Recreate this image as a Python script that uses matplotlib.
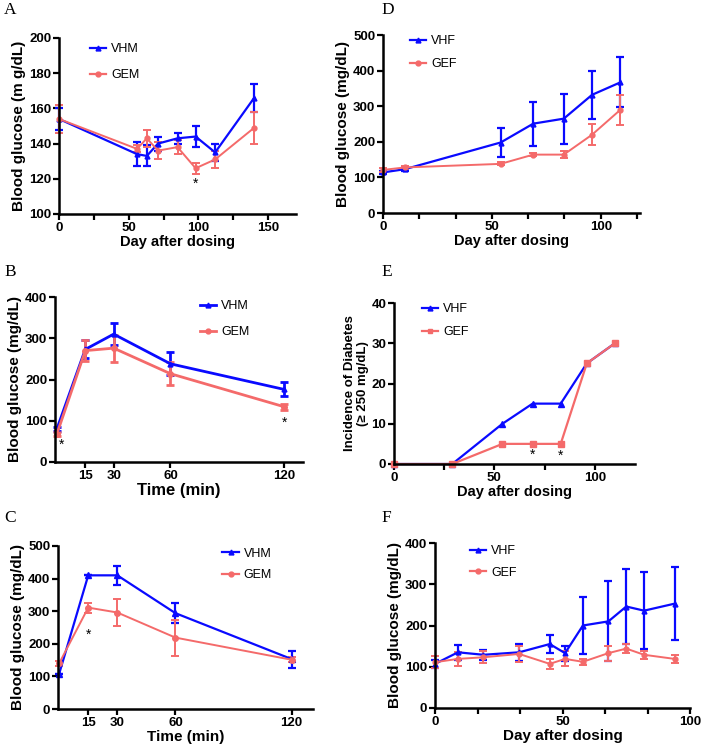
import matplotlib
matplotlib.use('Agg')
import matplotlib.pyplot as plt
from matplotlib.lines import Line2D
import numpy as np

plt.rcParams['font.family'] = ['Liberation Sans', 'DejaVu Sans']

BLUE = '#0a0aff'
RED = '#f46a6a'

# ---- data ----
a_days = [0, 56, 63, 71, 85, 98, 112, 140]
a_vhm = [154, 134, 133, 140, 143, 144, 135, 166]
a_vhm_err = [6, 7, 6, 4, 3, 6, 5, 8]
a_gem = [154, 137, 143, 136, 138, 126, 131, 149]
a_gem_err = [8, 2, 5, 5, 4, 3, 5, 9]

b_time = [0, 15, 30, 60, 120]
b_vhm = [80, 273, 310, 238, 176]
b_vhm_err = [5, 22, 27, 28, 17]
b_gem = [68, 270, 276, 214, 134]
b_gem_err = [5, 25, 33, 28, 7]

c_time = [0, 15, 30, 60, 120]
c_vhm = [108, 410, 410, 294, 153]
c_vhm_err = [0, 0, 30, 31, 26]
c_gem = [140, 311, 296, 219, 151]
c_gem_err = [8, 15, 40, 55, 8]

d_days = [0, 10, 54, 69, 83, 96, 109]
d_vhf = [114, 123, 198, 251, 265, 332, 367]
d_vhf_err = [5, 5, 42, 62, 70, 68, 70]
d_gef = [121, 128, 138, 164, 164, 220, 290]
d_gef_err = [5, 4, 4, 5, 10, 30, 42]

e_days = [0, 29, 54, 69, 83, 96, 110]
e_vhf = [0, 0, 10, 15, 15, 25, 30]
e_gef = [0, 0, 5, 5, 5, 25, 30]

f_days = [0, 9, 19, 33, 45, 51, 58, 68, 75, 82, 94]
f_vhf = [107, 135, 129, 135, 155, 133, 200, 210, 246, 236, 253]
f_vhf_err = [10, 18, 12, 20, 21, 18, 70, 97, 91, 94, 88]
f_gef = [111, 119, 123, 131, 107, 119, 112, 133, 144, 129, 119]
f_gef_err = [14, 17, 14, 20, 13, 18, 8, 18, 11, 10, 10]

W, H = 702, 750
fig = plt.figure(figsize=(W / 100, H / 100), dpi=100)

TICK_FS = 9.5
LAB_FS = 11


def make_ax(left, right, top, bottom):
    # pixel box (top origin) -> figure fraction
    return fig.add_axes([left / W, 1 - bottom / H, (right - left) / W, (bottom - top) / H])


def style(ax, letter, lx, ly):
    for s in ['top', 'right']:
        ax.spines[s].set_visible(False)
    for s in ['left', 'bottom']:
        ax.spines[s].set_linewidth(1.8)
    ax.tick_params(which='major', direction='out', length=4, width=1.6,
                   labelsize=TICK_FS, pad=1.5)
    ax.tick_params(which='minor', direction='out', length=4, width=1.6)
    for lab in ax.get_xticklabels() + ax.get_yticklabels():
        lab.set_fontweight('bold')
    fig.text(lx / W, 1 - ly / H, letter, family='Liberation Serif', fontsize=12.5,
             ha='left', va='center')


def series(ax, x, y, err, color, marker, lw, ms):
    ax.errorbar(x, y, yerr=err, color=color, lw=lw, marker=marker, ms=ms,
                capsize=3, capthick=lw, elinewidth=lw, clip_on=False)


def legend(ax, labels, markers, x, y, spacing=1.1, lw=1.6):
    handles = [Line2D([], [], color=BLUE, lw=lw, marker=markers[0], ms=3.5),
               Line2D([], [], color=RED, lw=lw, marker=markers[1], ms=3.5)]
    ax.legend(handles, labels, loc='upper left', bbox_to_anchor=(x, y), frameon=False,
              fontsize=9, handlelength=1.3, handletextpad=0.4, labelspacing=spacing,
              borderaxespad=0, borderpad=0)


# ---- A ----
ax = make_ax(59, 296, 38, 214)
series(ax, a_days, a_vhm, a_vhm_err, BLUE, '^', 1.6, 3.5)
series(ax, a_days, a_gem, a_gem_err, RED, 'o', 1.4, 3.5)
ax.set_xlim(0, 170)
ax.set_ylim(100, 200)
ax.set_xticks([0, 50, 100, 150])
ax.set_xticks([25, 75, 125], minor=True)
ax.set_yticks(np.arange(100, 201, 20))
ax.set_ylabel('Blood glucose (m g/dL)', fontweight='bold', fontsize=LAB_FS, labelpad=2)
ax.set_xlabel('Day after dosing', fontweight='bold', fontsize=10.5, labelpad=1)
ax.text(98, 117, '*', ha='center', va='center', fontsize=10)
style(ax, 'A', 4, 10)
legend(ax, ['VHM', 'GEM'], ['^', 'o'], 0.13, 0.97)

# ---- D ----
ax = make_ax(383, 640, 35, 213)
series(ax, d_days, d_vhf, d_vhf_err, BLUE, '^', 1.6, 3.5)
series(ax, d_days, d_gef, d_gef_err, RED, 'o', 1.4, 3.5)
ax.set_xlim(0, 118)
ax.set_ylim(0, 500)
ax.set_xticks([0, 50, 100])
ax.set_xticks([50 / 3, 100 / 3, 200 / 3, 250 / 3, 350 / 3], minor=True)
ax.set_yticks(np.arange(0, 501, 100))
ax.set_ylabel('Blood glucose (mg/dL)', fontweight='bold', fontsize=LAB_FS, labelpad=2)
ax.set_xlabel('Day after dosing', fontweight='bold', fontsize=10.5, labelpad=1)
style(ax, 'D', 381, 10)
legend(ax, ['VHF', 'GEF'], ['^', 'o'], 0.105, 1.0, 0.9)

# ---- B ----
ax = make_ax(55, 303, 297, 462)
series(ax, b_time, b_vhm, b_vhm_err, BLUE, '^', 2.0, 3.5)
series(ax, b_time, b_gem, b_gem_err, RED, 'o', 2.0, 4)
ax.set_xlim(-1, 130)
ax.set_ylim(0, 400)
ax.set_xticks(b_time[1:])
ax.set_yticks(np.arange(0, 401, 100))
ax.set_ylabel('Blood glucose (mg/dL)', fontweight='bold', fontsize=LAB_FS, labelpad=2)
ax.set_xlabel('Time (min)', fontweight='bold', fontsize=12, labelpad=1)
ax.text(2.5, 42, '*', ha='center', va='center', fontsize=10)
ax.text(120, 95, '*', ha='center', va='center', fontsize=10)
style(ax, 'B', 4, 272)
legend(ax, ['VHM', 'GEM'], ['^', 'o'], 0.585, 0.98, lw=2.0)

# ---- E ----
ax = make_ax(394, 635, 303, 464)
ax.plot(e_days, e_vhf, color=BLUE, lw=1.6, marker='^', ms=4, clip_on=False)
ax.plot(e_days, e_gef, color=RED, lw=1.6, marker='s', ms=4, clip_on=False)
ax.set_xlim(0, 120)
ax.set_ylim(0, 40)
ax.set_xticks([0, 50, 100])
ax.set_xticks([25, 75], minor=True)
ax.set_yticks(np.arange(0, 41, 10))
ax.set_ylabel('Incidence of Diabetes\n(\u2265 250 mg/dL)', fontweight='bold',
              fontsize=9.5, labelpad=2, linespacing=1.1)
ax.set_xlabel('Day after dosing', fontweight='bold', fontsize=10.5, labelpad=1)
ax.text(69, 2.3, '*', ha='center', va='center', fontsize=10)
ax.text(83, 2.0, '*', ha='center', va='center', fontsize=10)
style(ax, 'E', 381, 272)
legend(ax, ['VHF', 'GEF'], ['^', 's'], 0.115, 1.0, 0.9)

# ---- C ----
ax = make_ax(58, 313, 546, 709)
series(ax, c_time, c_vhm, c_vhm_err, BLUE, '^', 1.6, 4)
series(ax, c_time, c_gem, c_gem_err, RED, 'o', 1.4, 4)
ax.set_xlim(-0.6, 131)
ax.set_ylim(0, 500)
ax.set_xticks(c_time[1:])
ax.set_yticks(np.arange(0, 501, 100))
ax.set_ylabel('Blood glucose (mg/dL)', fontweight='bold', fontsize=LAB_FS, labelpad=2)
ax.set_xlabel('Time (min)', fontweight='bold', fontsize=11, labelpad=1)
ax.text(15, 228, '*', ha='center', va='center', fontsize=10)
style(ax, 'C', 4, 518)
legend(ax, ['VHM', 'GEM'], ['^', 'o'], 0.645, 0.99, 0.75)

# ---- F ----
ax = make_ax(435, 690, 543, 708)
series(ax, f_days, f_vhf, f_vhf_err, BLUE, '^', 1.6, 3.5)
series(ax, f_days, f_gef, f_gef_err, RED, 'o', 1.4, 3.5)
ax.set_xlim(0, 100)
ax.set_ylim(0, 400)
ax.set_xticks([0, 50, 100])
ax.set_xticks([50 / 3, 100 / 3, 200 / 3, 250 / 3], minor=True)
ax.set_yticks(np.arange(0, 401, 100))
ax.set_ylabel('Blood glucose (mg/dL)', fontweight='bold', fontsize=LAB_FS, labelpad=2)
ax.set_xlabel('Day after dosing', fontweight='bold', fontsize=11, labelpad=1)
style(ax, 'F', 381, 518)
legend(ax, ['VHF', 'GEF'], ['^', 'o'], 0.137, 0.985, 0.75)

fig.savefig('out.png', dpi=100)
